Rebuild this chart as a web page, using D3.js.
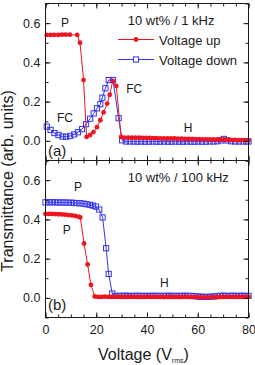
<!DOCTYPE html>
<html>
<head>
<meta charset="utf-8">
<script src="https://cdn.jsdelivr.net/npm/d3@7"></script>
<style>
body { margin: 0; background: #fff; }
svg { display: block; font-family: "Liberation Sans", Arial, sans-serif; }
</style>
</head>
<body>
<div id="chart"></div>
<script>
/* data: [voltage (Vrms), transmittance] */
var xTicks = [0, 20, 40, 60, 80];
var yTicks = [0, 0.2, 0.4, 0.6];
var seriesNames = ["Voltage up", "Voltage down"];
var panelTitles = ["10 wt% / 1 kHz", "10 wt% / 100 kHz"];
var panelTags = ["(a)", "(b)"];

var upA = [
    [0.5, 0.54], [2.0, 0.54], [3.4, 0.54], [5.0, 0.54], [6.5, 0.541], [8.0, 0.541], [9.6, 0.541],
    [12.5, 0.54], [13.6, 0.50], [15.0, 0.31], [16.2, 0.02], [17.6, 0.03], [18.9, 0.045],
    [20.3, 0.07], [21.6, 0.105], [22.9, 0.145], [24.3, 0.19], [25.3, 0.235], [26.5, 0.305],
    [27.9, 0.28], [29.8, 0.02], [31.2, 0.017], [32.6, 0.017], [34.0, 0.016], [35.4, 0.016],
    [36.8, 0.016], [38.2, 0.015], [39.6, 0.015], [41.0, 0.015], [42.4, 0.014], [43.8, 0.014],
    [45.2, 0.013], [46.6, 0.013], [48.0, 0.012], [49.4, 0.012], [50.8, 0.012], [52.2, 0.011],
    [53.6, 0.011], [55.0, 0.010], [56.4, 0.010], [57.8, 0.010], [59.2, 0.009], [60.6, 0.009],
    [62.0, 0.008], [63.4, 0.008], [64.8, 0.008], [66.2, 0.007], [67.6, 0.007], [69.0, 0.007],
    [70.4, 0.006], [71.8, 0.006], [73.2, 0.005], [74.6, 0.005], [76.0, 0.004], [77.4, 0.004],
    [78.8, 0.003], [80.0, 0.003]
];

var downA = [
    [0.5, 0.073], [2.0, 0.056], [3.5, 0.04], [5.1, 0.03], [6.7, 0.022], [8.1, 0.021], [9.7, 0.025],
    [11.3, 0.033], [12.8, 0.044], [14.4, 0.06], [16.0, 0.085], [17.6, 0.113], [19.0, 0.14],
    [20.3, 0.166], [21.6, 0.187], [22.4, 0.22], [23.6, 0.268], [24.9, 0.31], [26.6, 0.31],
    [28.8, 0.116], [30.2, 0.003], [31.7, -0.003], [33.2, -0.003], [34.7, -0.003], [36.2, -0.004],
    [37.7, -0.003], [39.2, -0.004], [40.7, -0.004], [42.2, -0.003], [43.7, -0.004], [45.2, -0.004],
    [46.7, -0.003], [48.2, -0.004], [49.7, -0.004], [51.2, -0.003], [52.7, -0.004], [54.2, -0.004],
    [55.7, -0.003], [57.2, -0.004], [58.7, -0.004], [60.2, -0.003], [61.7, -0.004], [63.2, -0.004],
    [64.7, -0.003], [66.2, -0.003], [67.7, -0.002], [69.2, 0.002], [70.3, 0.01], [71.7, 0.002],
    [73.2, -0.002], [74.7, -0.003], [76.2, -0.003], [77.7, -0.003], [79.2, -0.003], [80.0, -0.003]
];

var upB = [
    [0.0, 0.428], [1.3, 0.428], [2.6, 0.428], [3.9, 0.427], [5.2, 0.426], [6.5, 0.425],
    [7.8, 0.424], [9.1, 0.422], [10.4, 0.42], [11.7, 0.418], [13.0, 0.414], [13.7, 0.41],
    [15.2, 0.277], [16.6, 0.17], [17.9, 0.066], [19.4, 0.007], [20.7, 0.005], [22.0, 0.005],
    [23.3, 0.006], [24.6, 0.005], [25.9, 0.005], [27.2, 0.005], [28.5, 0.006], [29.8, 0.005],
    [31.1, 0.005], [32.4, 0.005], [33.7, 0.006], [35.0, 0.005], [36.3, 0.005], [37.6, 0.005],
    [38.9, 0.005], [40.2, 0.006], [41.5, 0.005], [42.8, 0.005], [44.1, 0.005], [45.4, 0.005],
    [46.7, 0.004], [48.0, 0.005], [49.3, 0.005], [50.6, 0.005], [51.9, 0.005], [53.2, 0.004],
    [54.5, 0.005], [55.8, 0.005], [57.1, 0.004], [58.4, 0.004], [59.7, 0.004], [61.0, 0.003],
    [62.3, 0.003], [63.6, 0.003], [64.9, 0.003], [66.2, 0.004], [67.5, 0.004], [68.8, 0.005],
    [70.1, 0.005], [71.4, 0.005], [72.7, 0.005], [74.0, 0.005], [75.3, 0.005], [76.6, 0.005],
    [77.9, 0.005], [79.2, 0.005], [80.0, 0.005]
];

var downB = [
    [0.0, 0.487], [1.25, 0.487], [2.5, 0.487], [3.75, 0.487], [5.0, 0.486], [6.25, 0.486],
    [7.5, 0.486], [8.75, 0.485], [10.0, 0.485], [11.25, 0.484], [12.5, 0.483], [13.75, 0.482],
    [15.0, 0.48], [16.25, 0.477], [17.5, 0.474], [18.7, 0.47], [19.9, 0.465], [21.2, 0.45],
    [22.5, 0.41], [23.9, 0.253], [24.9, 0.122], [26.3, 0.022], [27.5, 0.01], [28.75, 0.01],
    [30.0, 0.01], [31.25, 0.011], [32.5, 0.01], [33.75, 0.01], [35.0, 0.01], [36.25, 0.011],
    [37.5, 0.01], [38.75, 0.01], [40.0, 0.01], [41.25, 0.01], [42.5, 0.011], [43.75, 0.01],
    [45.0, 0.01], [46.25, 0.01], [47.5, 0.01], [48.75, 0.011], [50.0, 0.01], [51.25, 0.01],
    [52.5, 0.01], [53.75, 0.01], [55.0, 0.011], [56.25, 0.01], [57.5, 0.01], [58.75, 0.009],
    [60.0, 0.007], [61.25, 0.006], [62.5, 0.005], [63.75, 0.005], [65.0, 0.006], [66.25, 0.007],
    [67.5, 0.009], [68.75, 0.01], [70.0, 0.011], [71.25, 0.01], [72.5, 0.01], [73.75, 0.011],
    [75.0, 0.01], [76.25, 0.01], [77.5, 0.011], [78.75, 0.01], [80.0, 0.01]
];

var red = "#f0141e",
    blue = "#3434ee",
    ink = "#1a1a1a";

var svg = d3.select("#chart").append("svg")
    .attr("width", 255)
    .attr("height", 365);

var left = 45.5,
    right = 248.5,
    panelH = 157,
    tops = [3.5, 160.5];

var x = d3.scaleLinear()
    .domain([0, 80])
    .range([left, right]);

var xMinor = d3.range(0, 81, 5);
var yMinor = [-0.1, 0, 0.1, 0.2, 0.3, 0.4, 0.5, 0.6, 0.7];

var panels = [
    { up: upA, down: downA },
    { up: upB, down: downB }
];

var line = function(y) {
    return d3.line()
        .x(function(d) { return x(d[0]); })
        .y(function(d) { return y(d[1]); });
};

panels.forEach(function(p, i) {
    var top = tops[i],
        bottom = top + panelH;

    var y = d3.scaleLinear()
        .domain([-0.1, 0.7])
        .range([bottom, top]);

    var g = svg.append("g");

    // data: voltage down first, voltage up on top
    g.append("path")
        .datum(p.down)
        .attr("fill", "none")
        .attr("stroke", blue)
        .attr("stroke-width", 1)
        .attr("d", line(y));

    g.selectAll(".sq")
        .data(p.down)
        .enter().append("rect")
        .attr("class", "sq")
        .attr("x", function(d) { return x(d[0]) - 2.6; })
        .attr("y", function(d) { return y(d[1]) - 2.6; })
        .attr("width", 5.2)
        .attr("height", 5.2)
        .attr("fill", "none")
        .attr("stroke", blue)
        .attr("stroke-width", 1);

    g.append("path")
        .datum(p.up)
        .attr("fill", "none")
        .attr("stroke", red)
        .attr("stroke-width", 1)
        .attr("d", line(y));

    g.selectAll(".dot")
        .data(p.up)
        .enter().append("circle")
        .attr("class", "dot")
        .attr("cx", function(d) { return x(d[0]); })
        .attr("cy", function(d) { return y(d[1]); })
        .attr("r", 2.4)
        .attr("fill", red);

    // axes, ticks pointing inward on all four sides
    var axes = [
        { ax: d3.axisBottom(x), t: "translate(0," + bottom + ")", major: xTicks, minor: xMinor },
        { ax: d3.axisTop(x), t: "translate(0," + top + ")", major: xTicks, minor: xMinor },
        { ax: d3.axisLeft(y), t: "translate(" + left + ",0)", major: yTicks, minor: yMinor },
        { ax: d3.axisRight(y), t: "translate(" + right + ",0)", major: yTicks, minor: yMinor }
    ];

    axes.forEach(function(a, k) {
        var labelled = (k === 2) || (k === 0 && i === 1);
        var gm = g.append("g")
            .attr("transform", a.t)
            .call(a.ax.tickValues(a.minor).tickSize(-3).tickSizeOuter(0).tickFormat(""));
        gm.select(".domain").remove();
        gm.selectAll("line").attr("stroke", ink);

        var ga = g.append("g")
            .attr("transform", a.t)
            .call(a.ax.tickValues(a.major).tickSize(-5).tickSizeOuter(0)
                .tickPadding(k === 0 ? 8 : 5)
                .tickFormat(labelled ? (k === 2 ? d3.format(".1f") : d3.format("d")) : ""));
        ga.select(".domain").remove();
        ga.selectAll("line").attr("stroke", ink);
        ga.selectAll("text")
            .attr("fill", ink)
            .style("font-size", "12.5px")
            .style("font-family", "'Liberation Sans', Arial, sans-serif");
    });

    g.append("rect")
        .attr("x", left)
        .attr("y", top)
        .attr("width", right - left)
        .attr("height", panelH)
        .attr("fill", "none")
        .attr("stroke", ink)
        .attr("stroke-width", 1);

    // annotations
    var note = function(txt, v, t, anchor, size) {
        g.append("text")
            .attr("x", x(v))
            .attr("y", y(t))
            .attr("text-anchor", anchor || "start")
            .attr("fill", ink)
            .style("font-size", (size || 12) + "px")
            .text(txt);
    };

    note(panelTitles[i], 32.4, 0.59, "start", 13);
    note(panelTags[i], 1, i === 0 ? -0.076 : -0.064, "start", 15);

    if (i === 0) {
        note("P", 7.7, 0.58, "middle");
        note("FC", 4.5, 0.097);
        note("FC", 31.8, 0.244);
        note("H", 56.2, 0.046, "middle");

        var legend = g.selectAll(".legend")
            .data(seriesNames)
            .enter().append("g")
            .attr("class", "legend")
            .attr("transform", function(d, k) {
                return "translate(0," + (top + 36 + k * 20) + ")";
            });

        legend.append("line")
            .attr("x1", 118)
            .attr("x2", 154)
            .attr("stroke", function(d, k) { return k === 0 ? red : blue; })
            .attr("stroke-width", 1);

        legend.filter(function(d, k) { return k === 0; })
            .append("circle")
            .attr("cx", 136)
            .attr("r", 2.4)
            .attr("fill", red);

        legend.filter(function(d, k) { return k === 1; })
            .append("rect")
            .attr("x", 136 - 2.6)
            .attr("y", -2.6)
            .attr("width", 5.2)
            .attr("height", 5.2)
            .attr("fill", "#fff")
            .attr("stroke", blue);

        legend.append("text")
            .attr("x", 159)
            .attr("y", 5)
            .attr("fill", ink)
            .style("font-size", "13px")
            .text(function(d) { return d; });
    } else {
        note("P", 12.8, 0.543, "middle");
        note("P", 8.4, 0.324, "middle");
        note("H", 46.8, 0.054, "middle");
    }
});

// axis titles
svg.append("text")
    .attr("transform", "translate(12.5,181) rotate(-90)")
    .attr("text-anchor", "middle")
    .attr("fill", ink)
    .style("font-size", "16px")
    .text("Transmittance (arb. units)");

var xt = svg.append("text")
    .attr("x", 98)
    .attr("y", 360)
    .attr("fill", ink)
    .style("font-size", "16px");
xt.append("tspan").text("Voltage (V");
xt.append("tspan").attr("dy", 3).style("font-size", "7px").text("rms");
xt.append("tspan").attr("dy", -3).text(")");
</script>
</body>
</html>
